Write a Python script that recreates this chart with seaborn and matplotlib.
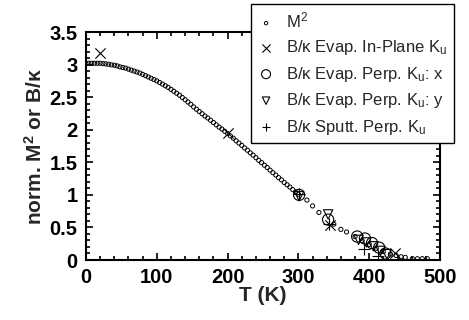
import matplotlib
matplotlib.use("Agg")
import matplotlib.pyplot as plt
import seaborn as sns
import pandas as pd
from matplotlib.ticker import MultipleLocator

# ---- data ----
m2_T = [0, 4, 8, 12, 16, 20, 24, 28, 32, 36, 40, 44, 48, 52, 56, 60, 64, 68, 72, 76,
        80, 84, 88, 92, 96, 100, 104, 108, 112, 116, 120, 124, 128, 132, 136, 140,
        144, 148, 152, 156, 160, 164, 168, 172, 176, 180, 184, 188, 192, 196, 200,
        204, 208, 212, 216, 220, 224, 228, 232, 236, 240, 244, 248, 252, 256, 260,
        264, 268, 272, 276, 280, 284, 288, 292, 296, 300,
        312, 320, 329, 350, 360, 368, 380, 390, 400, 410, 420, 430, 438, 445, 451,
        461, 468, 475, 482]
m2_v = [3.02, 3.02, 3.02, 3.02, 3.02, 3.02, 3.015, 3.01, 3.005, 2.995, 2.99, 2.98,
        2.965, 2.955, 2.945, 2.93, 2.915, 2.90, 2.885, 2.87, 2.85, 2.83, 2.81, 2.79,
        2.77, 2.75, 2.725, 2.70, 2.675, 2.65, 2.62, 2.59, 2.56, 2.53, 2.495, 2.46,
        2.425, 2.39, 2.35, 2.315, 2.28, 2.245, 2.21, 2.18, 2.145, 2.11, 2.075, 2.04,
        2.01, 1.975, 1.94, 1.905, 1.87, 1.83, 1.795, 1.76, 1.72, 1.685, 1.645, 1.61,
        1.57, 1.53, 1.495, 1.455, 1.42, 1.38, 1.34, 1.305, 1.265, 1.23, 1.19, 1.155,
        1.12, 1.08, 1.045, 1.01,
        0.92, 0.83, 0.73, 0.55, 0.47, 0.43, 0.36, 0.30, 0.24, 0.18, 0.13, 0.09, 0.07,
        0.05, 0.04, 0.02, 0.02, 0.02, 0.02]

inplane_T = [20, 200, 344, 436]
inplane_v = [3.17, 1.95, 0.53, 0.10]

perpx_T = [301, 342, 383, 394, 404, 414, 423]
perpx_v = [1.00, 0.62, 0.36, 0.33, 0.26, 0.19, 0.10]

perpy_T = [301, 342, 385, 396, 406, 416, 425]
perpy_v = [0.98, 0.70, 0.31, 0.27, 0.21, 0.14, 0.09]

sputt_T = [301, 343, 392, 412]
sputt_v = [1.02, 0.55, 0.17, 0.06]

labels = [r"M$^\mathregular{2}$",
          r"B/κ Evap. In-Plane K$_\mathregular{u}$",
          r"B/κ Evap. Perp. K$_\mathregular{u}$: x",
          r"B/κ Evap. Perp. K$_\mathregular{u}$: y",
          r"B/κ Sputt. Perp. K$_\mathregular{u}$"]

xticks = [0, 100, 200, 300, 400, 500]
yticks = [0, 0.5, 1, 1.5, 2, 2.5, 3, 3.5]
ytick_labels = ["0", "0.5", "1", "1.5", "2", "2.5", "3", "3.5"]

# ---- style ----
sns.set_style("ticks")
plt.rcParams["font.family"] = ["Liberation Sans", "DejaVu Sans"]
plt.rcParams["mathtext.fontset"] = "custom"
plt.rcParams["mathtext.rm"] = "Liberation Sans"
plt.rcParams["mathtext.it"] = "Liberation Sans:italic"
plt.rcParams["mathtext.bf"] = "Liberation Sans:bold"

fig = plt.figure(figsize=(4.69, 3.20), dpi=100)
ax = fig.add_axes([86 / 469, 60 / 320, 354 / 469, 228 / 320])

df_m2 = pd.DataFrame({"T": m2_T, "v": m2_v})
df_ip = pd.DataFrame({"T": inplane_T, "v": inplane_v})
df_px = pd.DataFrame({"T": perpx_T, "v": perpx_v})
df_py = pd.DataFrame({"T": perpy_T, "v": perpy_v})
df_sp = pd.DataFrame({"T": sputt_T, "v": sputt_v})

sns.scatterplot(data=df_m2, x="T", y="v", ax=ax, marker="o", s=9,
                facecolor="none", edgecolor="black", linewidth=0.7,
                label=labels[0], zorder=3)
sns.scatterplot(data=df_ip, x="T", y="v", ax=ax, marker="x", s=55,
                color="black", linewidth=0.8, label=labels[1], zorder=4)
sns.scatterplot(data=df_px, x="T", y="v", ax=ax, marker="o", s=65,
                facecolor="none", edgecolor="black", linewidth=0.8,
                label=labels[2], zorder=4)
sns.scatterplot(data=df_py, x="T", y="v", ax=ax, marker="v", s=45,
                facecolor="none", edgecolor="black", linewidth=0.8,
                label=labels[3], zorder=4)
sns.scatterplot(data=df_sp, x="T", y="v", ax=ax, marker="+", s=65,
                color="black", linewidth=0.8, label=labels[4], zorder=4)

ax.set_xlim(0, 500)
ax.set_ylim(0, 3.5)
ax.set_xticks(xticks)
ax.set_xticklabels([str(t) for t in xticks])
ax.set_yticks(yticks)
ax.set_yticklabels(ytick_labels)
ax.xaxis.set_minor_locator(MultipleLocator(20))
ax.yaxis.set_minor_locator(MultipleLocator(0.1))
ax.tick_params(which="both", direction="in", top=True, right=True,
               width=1.2, colors="black")
ax.tick_params(which="major", length=5, labelsize=14.5, pad=6)
ax.tick_params(which="minor", length=3)
for lab in ax.get_xticklabels() + ax.get_yticklabels():
    lab.set_fontweight("bold")
for sp in ax.spines.values():
    sp.set_linewidth(1.5)
    sp.set_color("black")

ax.set_xlabel("T (K)", fontsize=15, fontweight="bold", labelpad=-1)
ax.set_ylabel(r"norm. M$^\mathregular{2}$ or B/κ", fontsize=15,
              fontweight="bold", labelpad=3)

handles, labs = ax.get_legend_handles_labels()
ax.get_legend().remove()
leg = fig.legend(handles, labs, loc="upper right",
                 bbox_to_anchor=(454 / 469, 1 - 4 / 320),
                 fontsize=12, frameon=True, fancybox=False, framealpha=1,
                 edgecolor="black", handlelength=1.0, handletextpad=0.7,
                 labelspacing=0.45, borderpad=0.4, markerscale=0.8,
                 borderaxespad=0)
leg.get_frame().set_linewidth(1.0)

fig.savefig("out.png", dpi=100)
